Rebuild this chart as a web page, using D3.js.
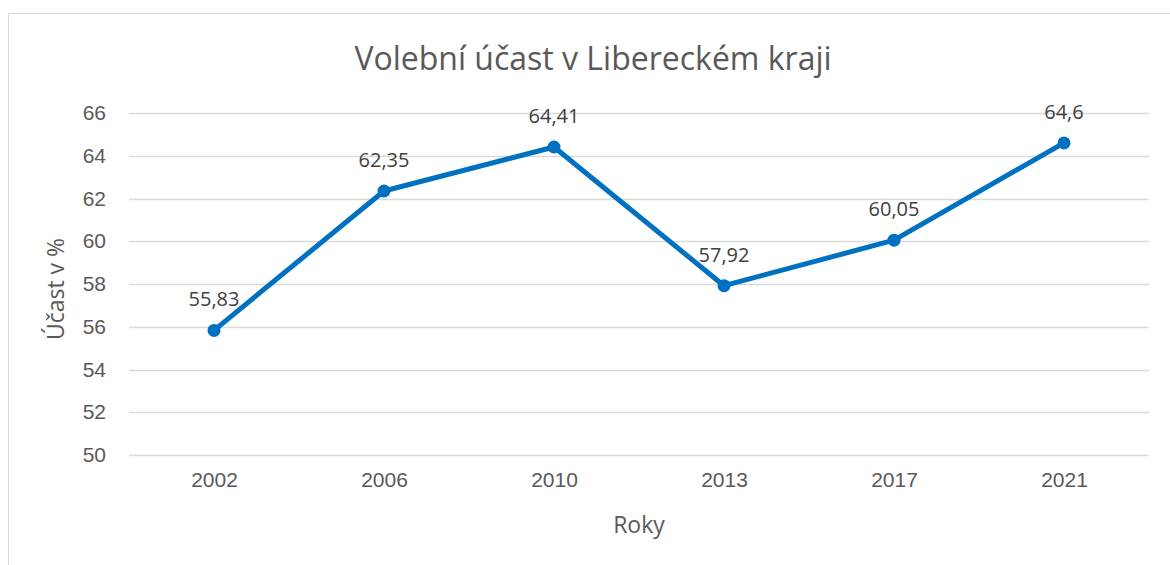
<!DOCTYPE html>
<html>
<head>
<meta charset="utf-8">
<script src="https://cdn.jsdelivr.net/npm/d3@7.9.0/dist/d3.min.js"></script>
<style>
  body { margin: 0; background: #fff; }
  svg { display: block; font-family: "Open Sans", Lato, sans-serif; }
</style>
</head>
<body>
<svg id="chart" width="1170" height="565"></svg>
<script>
// data
const years  = ['2002', '2006', '2010', '2013', '2017', '2021'];
const turnout = [55.83, 62.35, 64.41, 57.92, 60.05, 64.6];
const yTicks = [50, 52, 54, 56, 58, 60, 62, 64, 66];

const title  = 'Volební účast v Libereckém kraji';
const xTitle = 'Roky';
const yTitle = 'Účast v %';

const width = 1170, height = 565;
const margin = { top: 113, right: 21, bottom: 110, left: 129 };

const svg = d3.select('#chart');
const text = '#595959';

// chart border
svg.append('rect')
   .attr('x', 8.5).attr('y', 13.5)
   .attr('width', width + 10).attr('height', height + 10)
   .attr('fill', 'none').attr('stroke', '#d9d9d9').attr('stroke-width', 1);

const x = d3.scalePoint()
  .domain(years)
  .range([margin.left, width - margin.right])
  .padding(0.5);

const y = d3.scaleLinear()
  .domain([50, 66])
  .range([height - margin.bottom, margin.top]);

/* gridlines ---------------------------------------------------- */
svg.append('g')
   .selectAll('line')
   .data(yTicks)
   .join('line')
     .attr('x1', margin.left).attr('x2', width - margin.right)
     .attr('y1', d => Math.round(y(d)) + 0.5).attr('y2', d => Math.round(y(d)) + 0.5)
     .attr('stroke', '#d9d9d9').attr('stroke-width', 1.3);

/* axes --------------------------------------------------------- */
const yAxis = svg.append('g')
   .attr('transform', `translate(${margin.left - 8},0)`)
   .call(d3.axisLeft(y).tickValues(yTicks).tickSize(0).tickPadding(15));
yAxis.select('.domain').remove();
yAxis.selectAll('text').attr('fill', text).style('font-size', '21px').style('font-family', 'inherit');

const xAxis = svg.append('g')
   .attr('transform', `translate(0,${height - margin.bottom})`)
   .call(d3.axisBottom(x).tickSize(0).tickPadding(17));
xAxis.select('.domain').remove();
xAxis.selectAll('text').attr('fill', text).style('font-size', '21px').style('font-family', 'inherit');

/* line + markers ------------------------------------------------ */
const pts = years.map((yr, i) => ({ yr, v: turnout[i] }));

svg.append('path')
   .datum(pts)
   .attr('fill', 'none')
   .attr('stroke', '#0070c0')
   .attr('stroke-width', 5)
   .attr('stroke-linejoin', 'round')
   .attr('d', d3.line().x(d => x(d.yr)).y(d => y(d.v)));

svg.append('g')
   .selectAll('circle')
   .data(pts)
   .join('circle')
     .attr('cx', d => x(d.yr))
     .attr('cy', d => y(d.v))
     .attr('r', 6.5)
     .attr('fill', '#0070c0');

/* data labels -------------------------------------------------- */
svg.append('g')
   .selectAll('text')
   .data(pts)
   .join('text')
     .attr('x', d => x(d.yr))
     .attr('y', d => y(d.v) - 24)
     .attr('text-anchor', 'middle')
     .attr('fill', '#404040')
     .style('font-size', '20px')
     .text(d => String(d.v).replace('.', ','));

/* titles ------------------------------------------------------- */
svg.append('text')
   .attr('x', 593).attr('y', 70)
   .attr('text-anchor', 'middle')
   .attr('fill', text)
   .style('font-size', '32px')
   .text(title);

svg.append('text')
   .attr('x', 639).attr('y', 533)
   .attr('text-anchor', 'middle')
   .attr('fill', text)
   .style('font-size', '23px')
   .text(xTitle);

svg.append('text')
   .attr('transform', 'translate(64,289) rotate(-90)')
   .attr('text-anchor', 'middle')
   .attr('fill', text)
   .style('font-size', '23px')
   .text(yTitle);
</script>
</body>
</html>
